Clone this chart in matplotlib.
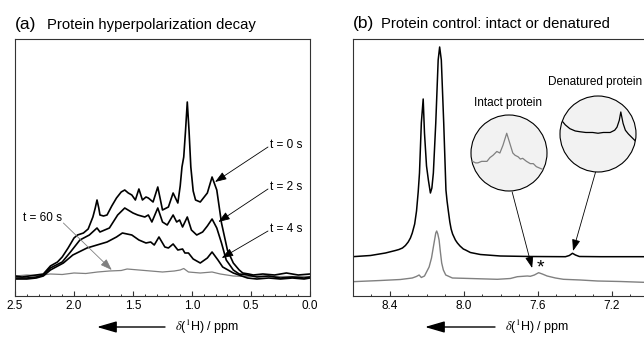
import matplotlib.pyplot as plt
from matplotlib.patches import Circle
from matplotlib.ticker import MultipleLocator

plt.rcParams['font.family'] = ['Liberation Sans', 'DejaVu Sans']
plt.rcParams['mathtext.fontset'] = 'stix'

# ---- data (a) : intensity vs ppm
t0_ppm = [2.50, 2.44, 2.38, 2.32, 2.26, 2.20, 2.14, 2.10, 2.05, 2.00, 1.97, 1.92, 1.88,
          1.84, 1.82, 1.805, 1.79, 1.78, 1.75, 1.72, 1.68, 1.64, 1.60, 1.57, 1.54, 1.51,
          1.48, 1.45, 1.42, 1.39, 1.37, 1.33, 1.29, 1.25, 1.20, 1.16, 1.12, 1.10, 1.085,
          1.07, 1.055, 1.04, 1.025, 1.01, 0.99, 0.97, 0.93, 0.87, 0.83, 0.79, 0.75, 0.70,
          0.65, 0.60, 0.57, 0.52, 0.48, 0.40, 0.30, 0.20, 0.10, 0.0]
t0_int = [20, 19, 20, 21, 22, 30, 34, 39, 48, 58, 61, 63, 67,
          79, 88, 96, 88, 81, 80, 81, 90, 98, 104, 106, 103, 101,
          96, 107, 96, 99, 98, 94, 109, 86, 89, 103, 93, 110, 129,
          139, 165, 194, 165, 129, 105, 96, 94, 103, 119, 106, 73, 46,
          33, 26, 23, 22, 21, 22, 21, 23, 21, 22]

t2_ppm = [2.50, 2.40, 2.32, 2.26, 2.20, 2.10, 2.03, 1.95, 1.87, 1.805, 1.78, 1.70, 1.63,
          1.57, 1.50, 1.46, 1.40, 1.37, 1.34, 1.29, 1.25, 1.21, 1.16, 1.13, 1.105, 1.08,
          1.04, 1.005, 0.96, 0.91, 0.87, 0.83, 0.79, 0.75, 0.71, 0.65, 0.60, 0.53, 0.45,
          0.35, 0.25, 0.15, 0.05, 0.0]
t2_int = [18, 18, 19, 21, 28, 34, 44, 56, 61, 68, 64, 68, 81,
          88, 83, 81, 79, 81, 74, 88, 74, 71, 81, 74, 76, 69,
          79, 66, 61, 64, 70, 77, 68, 53, 36, 26, 22, 21, 19,
          20, 18, 19, 18, 19]

t4_ppm = [2.50, 2.40, 2.32, 2.26, 2.20, 2.09, 2.01, 1.89, 1.805, 1.72, 1.64, 1.59, 1.51,
          1.45, 1.39, 1.35, 1.32, 1.28, 1.23, 1.20, 1.16, 1.12, 1.08, 1.06, 1.03, 0.99,
          0.93, 0.87, 0.83, 0.78, 0.74, 0.65, 0.53, 0.45, 0.35, 0.25, 0.15, 0.05, 0.0]
t4_int = [17, 17, 18, 20, 26, 33, 41, 48, 51, 54, 59, 63, 61,
          56, 53, 54, 51, 59, 49, 48, 52, 46, 47, 43, 43, 37,
          33, 38, 44, 36, 29, 23, 18, 17, 18, 17, 18, 17, 18]

t60_ppm = [2.50, 2.40, 2.30, 2.20, 2.10, 2.00, 1.90, 1.80, 1.70, 1.60, 1.55, 1.45, 1.35,
           1.25, 1.15, 1.10, 1.07, 1.03, 0.93, 0.83, 0.76, 0.65, 0.55, 0.45, 0.30, 0.15, 0.0]
t60_int = [20, 21, 20.5, 22, 21.5, 23, 22.5, 24, 25, 25.5, 27, 26, 25,
           24, 25, 26, 27.5, 24, 23, 24, 22, 20, 19.5, 20, 19.5, 19.5, 19.5]

# ---- data (b)
intact_ppm = [8.602, 8.504, 8.423, 8.369, 8.350, 8.331, 8.315, 8.300, 8.288, 8.278, 8.265,
              8.255, 8.246, 8.239, 8.229, 8.219, 8.212, 8.201, 8.191, 8.180, 8.172, 8.164,
              8.151, 8.138, 8.130, 8.121, 8.108, 8.096, 8.090, 8.083, 8.075, 8.068, 8.060,
              8.045, 8.034, 8.020, 8.002, 7.990, 7.964, 7.910, 7.802, 7.640, 7.450, 7.429,
              7.412, 7.396, 7.375, 7.261, 7.020, 6.900]
intact_int = [39.3, 40.5, 43, 45.5, 46.5, 48, 50.5, 54, 58, 63, 72,
              85, 104, 123, 173, 197, 163, 130, 116, 103, 108, 123,
              173, 236, 249, 236, 173, 106, 95, 85, 74, 67, 62,
              56, 53, 50, 47, 46, 43.5, 41.5, 40, 39.5, 39.3, 40.5,
              42.7, 41, 39.5, 39.3, 39.3, 39.3]

denat_ppm = [8.602, 8.450, 8.342, 8.278, 8.256, 8.241, 8.229, 8.212, 8.187, 8.174, 8.164,
             8.151, 8.146, 8.140, 8.133, 8.126, 8.119, 8.110, 8.097, 8.061, 8.002, 7.910,
             7.818, 7.748, 7.710, 7.656, 7.640, 7.618, 7.595, 7.575, 7.549, 7.504, 7.461,
             7.369, 7.277, 7.153, 7.029, 6.900]
denat_int = [14.3, 15.5, 16.5, 18, 19.5, 21, 18.5, 20, 29, 38, 49,
             63, 65, 62, 56, 44, 33, 26, 21, 18, 17.7, 17.2,
             16.7, 17.5, 19.3, 20, 19.7, 21, 23.3, 22, 20, 18, 16.7,
             16, 15, 14.5, 13.7, 13.5]

# zoomed insets (inset-axes units)
zoom_intact_x = [-0.02, 0.02, 0.06, 0.09, 0.14, 0.21, 0.25, 0.29, 0.34, 0.38, 0.42, 0.47,
                 0.51, 0.55, 0.58, 0.62, 0.65, 0.68, 0.73, 0.78, 0.82, 0.86, 0.93, 1.0]
zoom_intact_y = [0.40, 0.39, 0.37, 0.37, 0.39, 0.39, 0.44, 0.47, 0.52, 0.50, 0.60, 0.76,
                 0.63, 0.50, 0.47, 0.45, 0.42, 0.43, 0.39, 0.36, 0.36, 0.32, 0.29, 0.27]
zoom_denat_x = [0.0, 0.02, 0.07, 0.13, 0.20, 0.26, 0.34, 0.43, 0.50, 0.57, 0.66, 0.72,
                0.75, 0.78, 0.80, 0.83, 0.86, 0.90, 0.96, 1.0]
zoom_denat_y = [0.72, 0.68, 0.62, 0.57, 0.54, 0.53, 0.52, 0.52, 0.51, 0.52, 0.52, 0.55,
                0.59, 0.68, 0.79, 0.64, 0.55, 0.50, 0.44, 0.40]

W, H = 644, 344
fig = plt.figure(figsize=(W / 100, H / 100), dpi=100)


def frac(x0, y_top, w, h):
    return [x0 / W, (H - y_top - h) / H, w / W, h / H]


def style(ax):
    for s in ax.spines.values():
        s.set_color('#333333')
        s.set_linewidth(0.8)
    ax.tick_params(axis='x', which='both', direction='in', top=False, color='#333333',
                   labelsize=8.5, pad=3)
    ax.tick_params(axis='x', which='major', length=3.5, width=0.8)
    ax.tick_params(axis='x', which='minor', length=1.8, width=0.7)
    ax.set_yticks([])
    ax.set_ylim(0, 257)


# ---- panel (a)
ax1 = fig.add_axes(frac(15, 39, 295, 257))
style(ax1)
ax1.set_xlim(2.5, 0.0)
ax1.xaxis.set_major_locator(MultipleLocator(0.5))
ax1.xaxis.set_minor_locator(MultipleLocator(0.1))
ax1.xaxis.set_major_formatter(lambda v, p: f'{v:.1f}')
ax1.plot(t60_ppm, t60_int, color='#808080', lw=0.9)
ax1.plot(t4_ppm, t4_int, color='black', lw=1.2)
ax1.plot(t2_ppm, t2_int, color='black', lw=1.2)
ax1.plot(t0_ppm, t0_int, color='black', lw=1.2)

arr = dict(arrowstyle='-|>,head_length=0.7,head_width=0.25', lw=0.6, color='black',
           shrinkA=0, shrinkB=0)
for lab, ty, start, tip in [('t = 0 s', 151, (0.356, 149), (0.805, 114)),
                            ('t = 2 s', 109, (0.356, 107), (0.777, 74)),
                            ('t = 4 s', 67, (0.356, 65), (0.748, 38))]:
    ax1.annotate('', xy=tip, xytext=start, arrowprops=arr)
    ax1.text(0.339, ty, lab, fontsize=8.5, va='center', ha='left')
arr_g = dict(arr, color='#808080')
ax1.annotate('', xy=(1.68, 26), xytext=(2.09, 73), arrowprops=arr_g)
ax1.text(2.105, 78, 't = 60 s', fontsize=8.5, va='center', ha='right')

# ---- panel (b)
ax2 = fig.add_axes(frac(352.7, 39, 314.5, 257))
style(ax2)
ax2.set_xlim(8.6, 6.9)
ax2.xaxis.set_major_locator(MultipleLocator(0.4))
ax2.xaxis.set_minor_locator(MultipleLocator(0.1))
ax2.xaxis.set_major_formatter(lambda v, p: f'{v:.1f}')
ax2.plot(denat_ppm, denat_int, color='#808080', lw=1.0)
ax2.plot(intact_ppm, intact_int, color='black', lw=1.1)
ax2.text(7.585, 28, '*', fontsize=14, ha='center', va='center')
ax2.annotate('', xy=(7.630, 28), xytext=(7.738, 104), arrowprops=arr)
ax2.annotate('', xy=(7.409, 45), xytext=(7.284, 126), arrowprops=arr)
ax2.text(7.758, 193, 'Intact protein', fontsize=8.5, ha='center', va='center')
ax2.text(7.288, 214, 'Denatured protein', fontsize=8.5, ha='center', va='center')

# ---- circular insets
for (cx, cy), xs, ys, col in [((509, 153), zoom_intact_x, zoom_intact_y, '#808080'),
                              ((598, 134), zoom_denat_x, zoom_denat_y, 'black')]:
    r = 38
    axi = fig.add_axes(frac(cx - r, cy - r, 2 * r, 2 * r))
    axi.set_xlim(0, 1)
    axi.set_ylim(0, 1)
    axi.axis('off')
    circ = Circle((0.5, 0.5), 0.5, transform=axi.transAxes, facecolor='#f2f2f2',
                  edgecolor='black', lw=0.8, clip_on=False)
    axi.add_patch(circ)
    ln, = axi.plot(xs, ys, color=col, lw=0.9)
    ln.set_clip_path(circ)

# ---- titles
fig.text(15 / W, 1 - 28.5 / H, '(a)', fontsize=12.5, va='baseline')
fig.text(47 / W, 1 - 28.5 / H, 'Protein hyperpolarization decay', fontsize=10.7, va='baseline')
fig.text(352.7 / W, 1 - 28 / H, '(b)', fontsize=12.5, va='baseline')
fig.text(380.7 / W, 1 - 28 / H, 'Protein control: intact or denatured', fontsize=10.7,
         va='baseline')

# ---- axis labels with arrows
xl = r'$\delta$($^{1}$H) / ppm'
for xc, a0, a1 in [(207, 165, 97), (537.5, 495, 425)]:
    fig.text(xc / W, 1 - 327 / H, xl, fontsize=9, ha='center', va='center')
    ax1.annotate('', xy=(a1, H - 327), xycoords='figure pixels',
                 xytext=(a0, H - 327), textcoords='figure pixels',
                 arrowprops=dict(arrowstyle='-|>,head_length=1.2,head_width=0.35',
                                 lw=1.0, color='black', shrinkA=0, shrinkB=0))

fig.savefig('out.png', dpi=100)
